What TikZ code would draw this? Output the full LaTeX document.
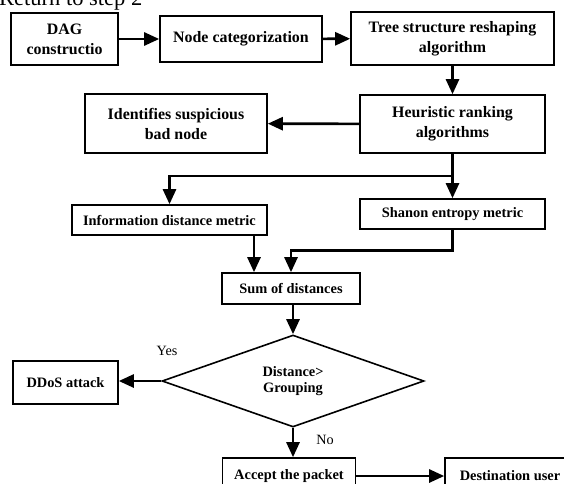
\documentclass[tikz,border=0pt]{standalone}
\usepackage{fontspec}
\setmainfont{Liberation Serif}
\usetikzlibrary{arrows.meta,shapes.geometric}

\begin{document}
\begin{tikzpicture}[x=1pt,y=-1pt]
	
	\tikzset{box/.style = {shape=rectangle,draw,line width=1.6pt,align=center,inner sep=0pt,font=\fontsize{14.4}{19}\selectfont\bfseries}}
	\tikzset{bigbox/.style = {box,font=\fontsize{15.9}{20}\selectfont\bfseries}}
	\tikzset{decision/.style = {shape=diamond,draw,line width=1.6pt,align=center,inner sep=0pt,minimum width=262pt,minimum height=92pt,font=\fontsize{14.4}{16}\selectfont\bfseries}}
	\tikzset{edge/.style = {line width=2.6pt,-{Triangle[length=15pt,width=13pt]}}}
	\tikzset{tag/.style = {inner sep=0pt,font=\fontsize{14.2}{16}\selectfont}}
	
	\useasboundingbox (0,0) rectangle (564,483);
	
	\node[anchor=base west,inner sep=0pt,font=\fontsize{22.5}{25}\selectfont] (ret) at (-1,5) {Return to step 2};
	
	\node[bigbox,minimum width=107pt,minimum height=52pt] (dag) at (64.5,39) {DAG\\constructio};
	\node[bigbox,minimum width=162pt,minimum height=46pt] (cat) at (241,39) {Node categorization};
	\node[bigbox,minimum width=203pt,minimum height=53pt] (tree) at (452.5,38.5) {Tree structure reshaping\\algorithm};
	\node[bigbox,minimum width=185pt,minimum height=58pt] (heur) at (452.5,124) {Heuristic ranking\\algorithms};
	\node[bigbox,minimum width=182pt,minimum height=59pt] (ident) at (176,123.5) {Identifies suspicious\\bad node};
	\node[box,minimum width=195pt,minimum height=30pt] (info) at (169.5,220) {Information distance metric};
	\node[box,minimum width=185pt,minimum height=30pt] (shan) at (452.5,214) {Shanon entropy metric};
	\node[box,minimum width=138pt,minimum height=31pt] (sum) at (291,288.5) {Sum of distances};
	\node[decision] (dia) at (293,381) {Distance>\\Grouping};
	\node[box,minimum width=105pt,minimum height=43pt] (ddos) at (65.5,382.5) {DDoS attack};
	\node[box,minimum width=133pt,minimum height=36pt] (accept) at (289,476) {Accept the packet};
	\node[box,minimum width=130pt,minimum height=36pt] (dest) at (510,476) {Destination user};
	
	\node[tag] (yes) at (167,351) {Yes};
	\node[tag] (no) at (325,440) {No};
	
	\coordinate (split) at (452.5,176);
	\coordinate (in1) at ([xshift=-37pt]sum.north);
	
	\draw[edge] (dag) to (cat);
	\draw[edge] (cat) to (tree);
	\draw[edge] (tree) to (heur);
	\draw[edge] (heur) to (ident);
	\draw[edge] (heur.south) -- (split) -| (info.north);
	\draw[edge] (split) -- (shan.north);
	\draw[edge] (info.south -| in1) -- (in1);
	\draw[edge] (shan.south) |- ([yshift=22pt]sum.north) -- (sum.north);
	\draw[edge] (sum.south -| dia.north) -- (dia.north);
	\draw[edge] (dia.west) -- (ddos.east |- dia.west);
	\draw[edge] (dia.south) -- (dia.south |- accept.north);
	\draw[edge] (accept.east) -- (dest.west);
	\end{tikzpicture}
\end{document}
